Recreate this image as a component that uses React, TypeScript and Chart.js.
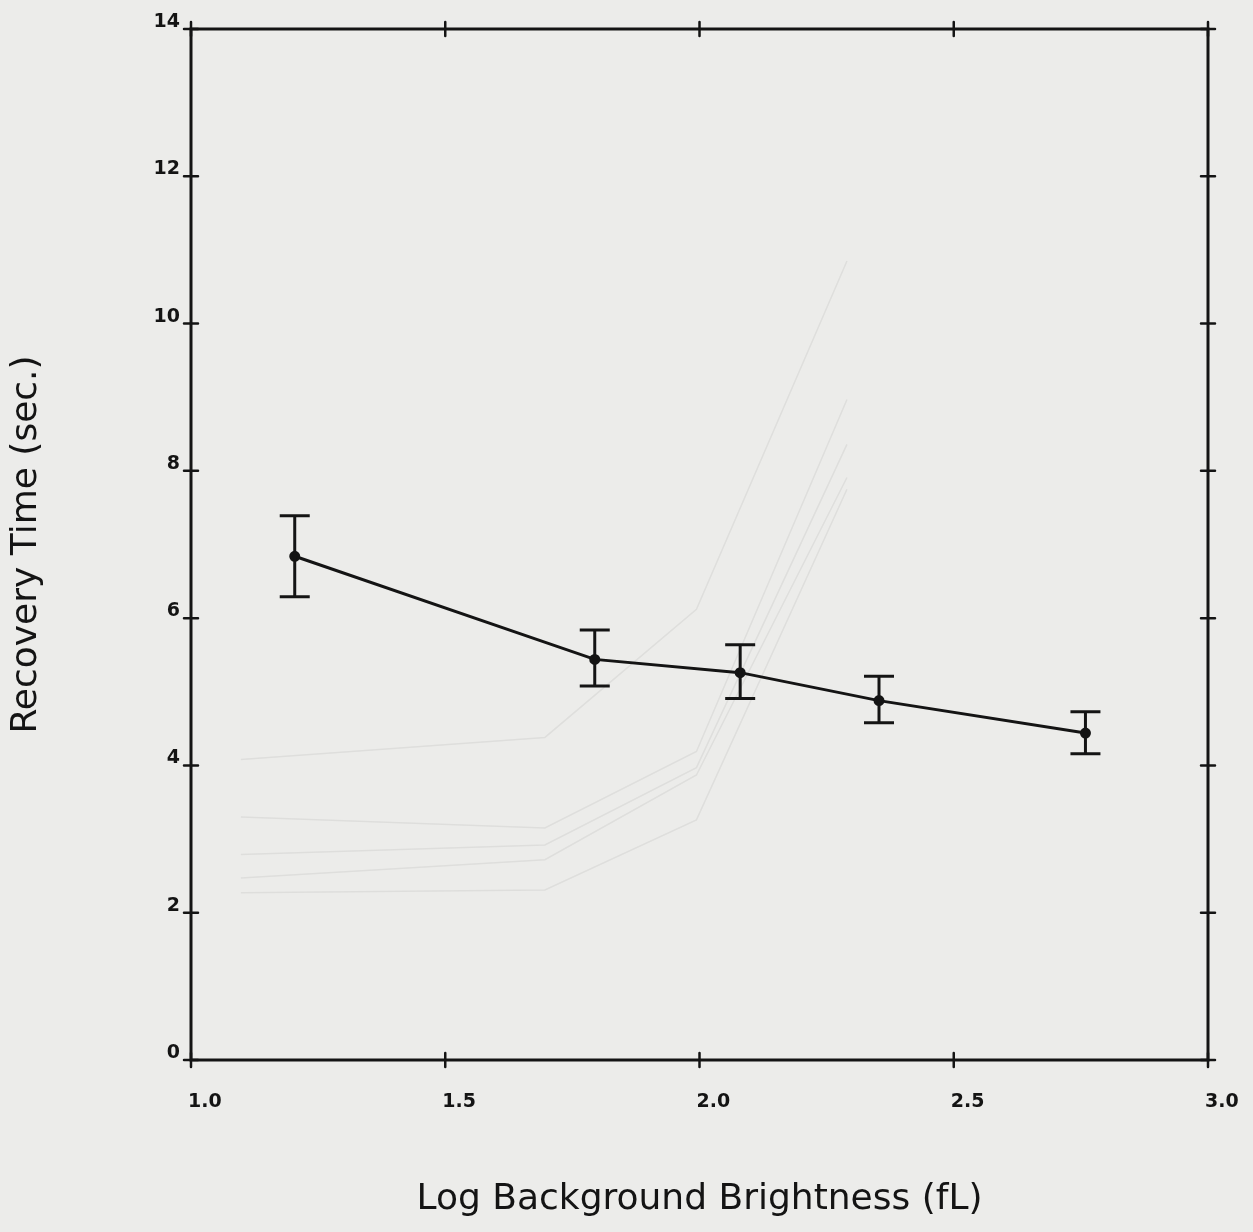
import React, { useEffect, useRef } from "react";
import { Chart, registerables } from "chart.js";

Chart.register(...registerables);

// Main series: Log background brightness (fL) vs recovery time (sec.)
const brightness = [1.204, 1.794, 2.08, 2.353, 2.759];
const recoveryTime = [6.84, 5.44, 5.26, 4.88, 4.44];
const errorHigh = [7.39, 5.84, 5.64, 5.21, 4.73];
const errorLow = [6.29, 5.08, 4.91, 4.58, 4.16];

// Axis ticks
const xTickValues = [1.0, 1.5, 2.0, 2.5, 3.0];
const xTickLabels = ["1.0", "1.5", "2.0", "2.5", "3.0"];
const yTickValues = [0, 2, 4, 6, 8, 10, 12, 14];
const yTickLabels = ["0", "2", "4", "6", "8", "10", "12", "14"];

// Faint bleed-through traces visible from the reverse side of the page
const ghostX = [1.098, 1.696, 1.994, 2.29];
const ghostA = [4.08, 4.38, 6.12, 10.85];
const ghostB = [3.3, 3.15, 4.19, 8.97];
const ghostC = [2.79, 2.92, 3.97, 8.36];
const ghostD = [2.47, 2.72, 3.87, 7.91];
const ghostE = [2.27, 2.31, 3.26, 7.75];

const INK = "#141414";
const PAPER = "#ececea";

const framePlugin = {
  id: "framePlugin",
  afterDatasetsDraw(chart: any) {
    const { ctx, chartArea, scales } = chart;
    const xs = scales.x;
    const ys = scales.y;
    const { left, right, top, bottom } = chartArea;
    ctx.save();
    ctx.strokeStyle = INK;
    ctx.lineWidth = 3;
    ctx.lineCap = "round";
    ctx.strokeRect(left, top, right - left, bottom - top);
    const t = 7;
    ctx.lineWidth = 2.5;
    xTickValues.forEach((v) => {
      const px = xs.getPixelForValue(v);
      ctx.beginPath();
      ctx.moveTo(px, bottom - t);
      ctx.lineTo(px, bottom + t);
      ctx.moveTo(px, top - t);
      ctx.lineTo(px, top + t);
      ctx.stroke();
    });
    yTickValues.forEach((v) => {
      const py = ys.getPixelForValue(v);
      ctx.beginPath();
      ctx.moveTo(left - t, py);
      ctx.lineTo(left + t, py);
      ctx.moveTo(right - t, py);
      ctx.lineTo(right + t, py);
      ctx.stroke();
    });
    // error bars
    ctx.lineWidth = 3;
    ctx.lineCap = "butt";
    const cap = 15;
    brightness.forEach((bx, i) => {
      const px = xs.getPixelForValue(bx);
      const pHi = ys.getPixelForValue(errorHigh[i]);
      const pLo = ys.getPixelForValue(errorLow[i]);
      ctx.beginPath();
      ctx.moveTo(px, pHi);
      ctx.lineTo(px, pLo);
      ctx.moveTo(px - cap, pHi);
      ctx.lineTo(px + cap, pHi);
      ctx.moveTo(px - cap, pLo);
      ctx.lineTo(px + cap, pLo);
      ctx.stroke();
    });
    ctx.restore();
  },
};

const ghostSet = (ys: number[]) => ({
  label: "ghost",
  data: ghostX.map((x, i) => ({ x, y: ys[i] })),
  showLine: true,
  borderColor: "rgba(0,0,0,0.06)",
  borderWidth: 1.5,
  pointRadius: 0,
  order: 2,
});

export default function App() {
  const ref = useRef<HTMLCanvasElement | null>(null);
  useEffect(() => {
    if (!ref.current) return;
    const chart = new Chart(ref.current, {
      type: "scatter",
      data: {
        datasets: [
          {
            label: "Recovery Time",
            data: brightness.map((x, i) => ({ x, y: recoveryTime[i] })),
            showLine: true,
            borderColor: INK,
            backgroundColor: INK,
            borderWidth: 3,
            pointRadius: 4,
            pointStyle: "circle",
            order: 1,
          },
          ghostSet(ghostA),
          ghostSet(ghostB),
          ghostSet(ghostC),
          ghostSet(ghostD),
          ghostSet(ghostE),
        ],
      },
      options: {
        animation: false,
        responsive: false,
        maintainAspectRatio: false,
        layout: { padding: { top: 29, right: 45, left: 0, bottom: 0 } },
        plugins: { legend: { display: false }, tooltip: { enabled: false } },
        scales: {
          x: {
            type: "linear",
            min: 1,
            max: 3,
            grid: { display: false },
            border: { display: false },
            afterBuildTicks: (s: any) => {
              s.ticks = xTickValues.map((v) => ({ value: v }));
            },
            afterFit: (s: any) => {
              s.height = 172;
              s.paddingLeft = 0;
              s.paddingRight = 0;
            },
            ticks: {
              align: "start",
              labelOffset: -3,
              padding: 23,
              color: INK,
              font: { family: "DejaVu Sans", weight: "bold", size: 19 },
              callback: (v: any) => xTickLabels[xTickValues.indexOf(Number(v))] ?? "",
              maxRotation: 0,
              autoSkip: false,
            },
            title: {
              display: true,
              text: "Log Background Brightness (fL)",
              color: INK,
              font: { family: "DejaVu Sans", size: 36 },
              padding: { top: 0, bottom: 11 },
            },
          },
          y: {
            type: "linear",
            min: 0,
            max: 14,
            grid: { display: false },
            border: { display: false },
            afterBuildTicks: (s: any) => {
              s.ticks = yTickValues.map((v) => ({ value: v }));
            },
            afterFit: (s: any) => {
              s.width = 191;
              s.paddingTop = 0;
              s.paddingBottom = 0;
            },
            ticks: {
              padding: 3,
              labelOffset: -7,
              color: INK,
              font: { family: "DejaVu Sans", weight: "bold", size: 19 },
              callback: (v: any) => yTickLabels[yTickValues.indexOf(Number(v))] ?? "",
              autoSkip: false,
            },
            title: {
              display: true,
              text: "Recovery Time (sec.)",
              color: INK,
              font: { family: "DejaVu Sans", size: 36 },
              padding: { top: 5, bottom: 0 },
            },
          },
        },
      },
      plugins: [framePlugin],
    });
    return () => chart.destroy();
  }, []);

  return (
    <div
      style={{
        position: "fixed",
        left: 0,
        top: 0,
        width: 1253,
        height: 1232,
        background: PAPER,
      }}
    >
      <canvas ref={ref} width={1253} height={1232} style={{ display: "block" }} />
    </div>
  );
}
